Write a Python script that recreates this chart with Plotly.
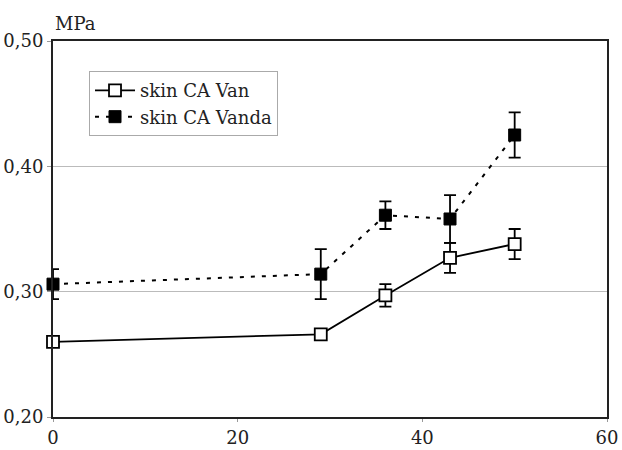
import plotly.graph_objects as go

# Time points and measured stress (MPa) with standard deviations
x_days = [0, 29, 36, 43, 50]
van_vals = [0.260, 0.266, 0.297, 0.327, 0.338]
van_err = [0.002, 0.003, 0.009, 0.012, 0.012]
vanda_vals = [0.306, 0.314, 0.361, 0.358, 0.425]
vanda_err = [0.012, 0.020, 0.011, 0.019, 0.018]

y_ticks = [0.20, 0.30, 0.40, 0.50]
y_tick_text = ["0,20", "0,30", "0,40", "0,50"]
x_ticks = [0, 20, 40, 60]

FONT = "DejaVu Serif"

fig = go.Figure()

fig.add_trace(go.Scatter(
    x=x_days, y=van_vals, name="skin CA Van",
    mode="lines+markers", cliponaxis=False,
    line=dict(color="black", width=1.8),
    marker=dict(symbol="square", size=12, color="white",
                line=dict(color="black", width=1.8)),
    error_y=dict(type="data", array=van_err, color="black",
                 thickness=1.8, width=6),
))

fig.add_trace(go.Scatter(
    x=x_days, y=vanda_vals, name="skin CA Vanda",
    mode="lines+markers", cliponaxis=False,
    line=dict(color="black", width=2, dash="4px,7px"),
    marker=dict(symbol="square", size=12, color="black",
                line=dict(color="black", width=1)),
    error_y=dict(type="data", array=vanda_err, color="black",
                 thickness=1.8, width=6),
))

fig.update_layout(
    width=622, height=450,
    margin=dict(l=53, r=15, t=41, b=33),
    paper_bgcolor="white", plot_bgcolor="white",
    font=dict(family=FONT, size=18, color="#222"),
    showlegend=True,
    legend=dict(
        x=0.065, y=0.92, xanchor="left", yanchor="top",
        bordercolor="#aaa", borderwidth=1, bgcolor="white",
        font=dict(family=FONT, size=18, color="#222"),
        tracegroupgap=0, itemwidth=40,
    ),
    xaxis=dict(
        range=[0, 60], tickvals=x_ticks, showgrid=False,
        ticks="outside", ticklen=3, tickcolor="#999",
        showline=True, linecolor="#222", linewidth=2, mirror=True,
        zeroline=False, automargin=False,
        tickfont=dict(family=FONT, size=18),
    ),
    yaxis=dict(
        range=[0.20, 0.50], tickvals=y_ticks, ticktext=y_tick_text,
        showgrid=True, gridcolor="#bbb", gridwidth=1,
        ticks="outside", ticklen=4, tickcolor="#999",
        showline=True, linecolor="#222", linewidth=2, mirror=True,
        zeroline=False, automargin=False,
        tickfont=dict(family=FONT, size=18),
    ),
    annotations=[dict(
        text="MPa", xref="paper", yref="paper", x=0.0, y=1.0,
        xanchor="left", yanchor="bottom", yshift=5, showarrow=False,
        font=dict(family=FONT, size=18, color="#222"),
    )],
)

fig.write_html("out.html")
